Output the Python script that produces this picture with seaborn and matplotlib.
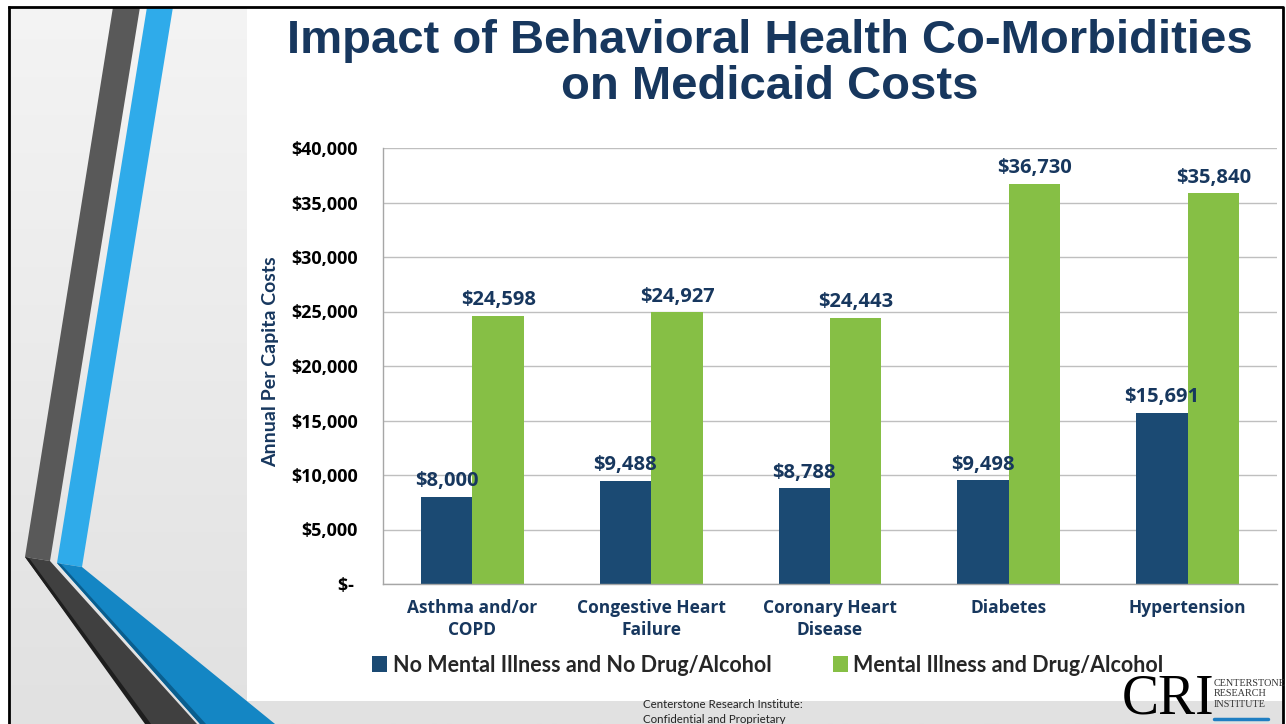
import numpy as np
import pandas as pd
import matplotlib
matplotlib.use("Agg")
import matplotlib.pyplot as plt
from matplotlib.patches import Polygon, Rectangle
from matplotlib.colors import LinearSegmentedColormap
import seaborn as sns

# Data
conditions = ["Asthma and/or\nCOPD", "Congestive Heart\nFailure",
              "Coronary Heart\nDisease", "Diabetes", "Hypertension"]
no_mental_illness = [8000, 9488, 8788, 9498, 15691]
mental_illness = [24598, 24927, 24443, 36730, 35840]
series = ["No Mental Illness and No Drug/Alcohol",
          "Mental Illness and Drug/Alcohol"]
y_ticks = [0, 5000, 10000, 15000, 20000, 25000, 30000, 35000, 40000]
y_tick_labels = ["$- ", "$5,000", "$10,000", "$15,000", "$20,000",
                 "$25,000", "$30,000", "$35,000", "$40,000"]

df = pd.DataFrame({
    "condition": conditions * 2,
    "group": [series[0]] * len(conditions) + [series[1]] * len(conditions),
    "cost": no_mental_illness + mental_illness,
})

NAVY = "#1B4A73"
GREEN = "#86BF45"
TEXT_NAVY = "#17375E"
GRID = "#BFBFBF"

sns.set_style("white")
plt.rcParams["font.family"] = ["Open Sans", "DejaVu Sans"]

fig = plt.figure(figsize=(12.86, 7.24), dpi=100)

# slide background drawn in pixel coordinates
bg = fig.add_axes([0, 0, 1, 1], zorder=0)
grad = LinearSegmentedColormap.from_list("bg", ["#F4F4F4", "#E1E1E1"])
bg.imshow(np.linspace(0, 1, 256).reshape(-1, 1), cmap=grad,
          extent=[0, 1286, 724, 0], aspect="auto")
stripes = [
    ([(113, 7), (140, 7), (50, 561), (25, 557)], "#595959"),
    ([(25, 557), (50, 561), (197, 724), (147, 724)], "#404040"),
    ([(25, 557), (29, 558), (151, 724), (145, 724)], "#1E1E1E"),
    ([(147, 7), (173, 7), (82, 567), (57, 563)], "#2FABEA"),
    ([(57, 563), (82, 567), (275, 724), (200, 724)], "#1486C4"),
    ([(57, 563), (61, 564), (206, 724), (200, 724)], "#0A5E8E"),
]
for pts, col in stripes:
    bg.add_patch(Polygon(pts, closed=True, facecolor=col, edgecolor="none"))
bg.add_patch(Rectangle((247, 7), 1036, 694, facecolor="white", edgecolor="none"))
bg.add_patch(Rectangle((0, 0), 1286, 6, facecolor="white", edgecolor="none"))
bg.add_patch(Rectangle((0, 0), 8, 724, facecolor="white", edgecolor="none"))
bg.add_patch(Rectangle((1284, 0), 2, 724, facecolor="white", edgecolor="none"))
bg.plot([9, 1283, 1283], [7, 7, 724], color="black", lw=2, solid_capstyle="projecting")
bg.plot([9, 9], [7, 724], color="black", lw=2)
bg.plot([1214, 1268], [719, 719], color="#1F7EC2", lw=2.5)
bg.set_xlim(0, 1286)
bg.set_ylim(724, 0)
bg.axis("off")

# title
fig.text(770 / 1286, 1 - 41 / 724, "Impact of Behavioral Health Co-Morbidities",
         ha="center", va="center", fontsize=34, fontweight="bold",
         color=TEXT_NAVY, family="Liberation Sans")
fig.text(770 / 1286, 1 - 87 / 724, "on Medicaid Costs",
         ha="center", va="center", fontsize=34, fontweight="bold",
         color=TEXT_NAVY, family="Liberation Sans")

# chart
ax = fig.add_axes([383 / 1286, 140 / 724, 894 / 1286, 436 / 724], zorder=2)
ax.patch.set_alpha(0)
sns.barplot(data=df, x="condition", y="cost", hue="group",
            palette=[NAVY, GREEN], width=0.576, saturation=1,
            ax=ax, edgecolor="none", linewidth=0)

for cont in ax.containers:
    vals = [b.get_height() for b in cont]
    ax.bar_label(cont, labels=[f"${v:,.0f}" for v in vals], padding=4,
                 fontsize=14.5, fontweight="bold", color=TEXT_NAVY)

ax.set_ylim(0, 40000)
ax.set_xlim(-0.5, len(conditions) - 0.5)
ax.set_yticks(y_ticks)
ax.set_yticklabels(y_tick_labels, fontsize=13, fontweight="bold", color="black")
ax.set_xticks(range(len(conditions)))
ax.set_xticklabels(conditions, fontsize=12.5, fontweight="bold",
                   color=TEXT_NAVY, linespacing=1.3)
ax.set_xticks(np.arange(-0.5, len(conditions)), minor=True)
ax.tick_params(axis="x", which="major", length=0, pad=11)
ax.tick_params(axis="x", which="minor", length=5, color="#A6A6A6", width=1)
ax.tick_params(axis="y", length=6, color="#A6A6A6", width=1, pad=12)
ax.yaxis.grid(True, color=GRID, lw=1)
ax.set_axisbelow(True)
for s in ["top", "right"]:
    ax.spines[s].set_visible(False)
for s in ["left", "bottom"]:
    ax.spines[s].set_color("#A6A6A6")
    ax.spines[s].set_linewidth(1)
ax.set_xlabel("")
ax.set_ylabel("Annual Per Capita Costs", fontsize=14, fontweight="bold",
              color=TEXT_NAVY, family="Lato")
ax.yaxis.set_label_coords(-0.116, 0.51)

handles, labels = ax.get_legend_handles_labels()
ax.legend(handles, labels, loc="center", bbox_to_anchor=(768 / 1286, 1 - 665 / 724),
          bbox_transform=fig.transFigure, ncol=2, frameon=False,
          handlelength=0.7, handleheight=0.7, handletextpad=0.25,
          columnspacing=2.85, prop={"family": "Lato", "weight": "bold", "size": 15.5})

# footer
fig.text(643 / 1286, 1 - 712 / 724, "Centerstone Research Institute:\nConfidential and Proprietary",
         ha="left", va="center", fontsize=8.3, color="#222222", family="Lato",
         linespacing=1.35)
fig.text(1122 / 1286, 1 - 699 / 724, "CRI", ha="left", va="center",
         fontsize=40, color="black", family="Liberation Serif")
fig.text(1214 / 1286, 1 - 694 / 724, "CENTERSTONE\nRESEARCH\nINSTITUTE",
         ha="left", va="center", fontsize=7.3, color="#333333",
         family="Liberation Serif", linespacing=1.15)

fig.savefig("out.png", dpi=100)
